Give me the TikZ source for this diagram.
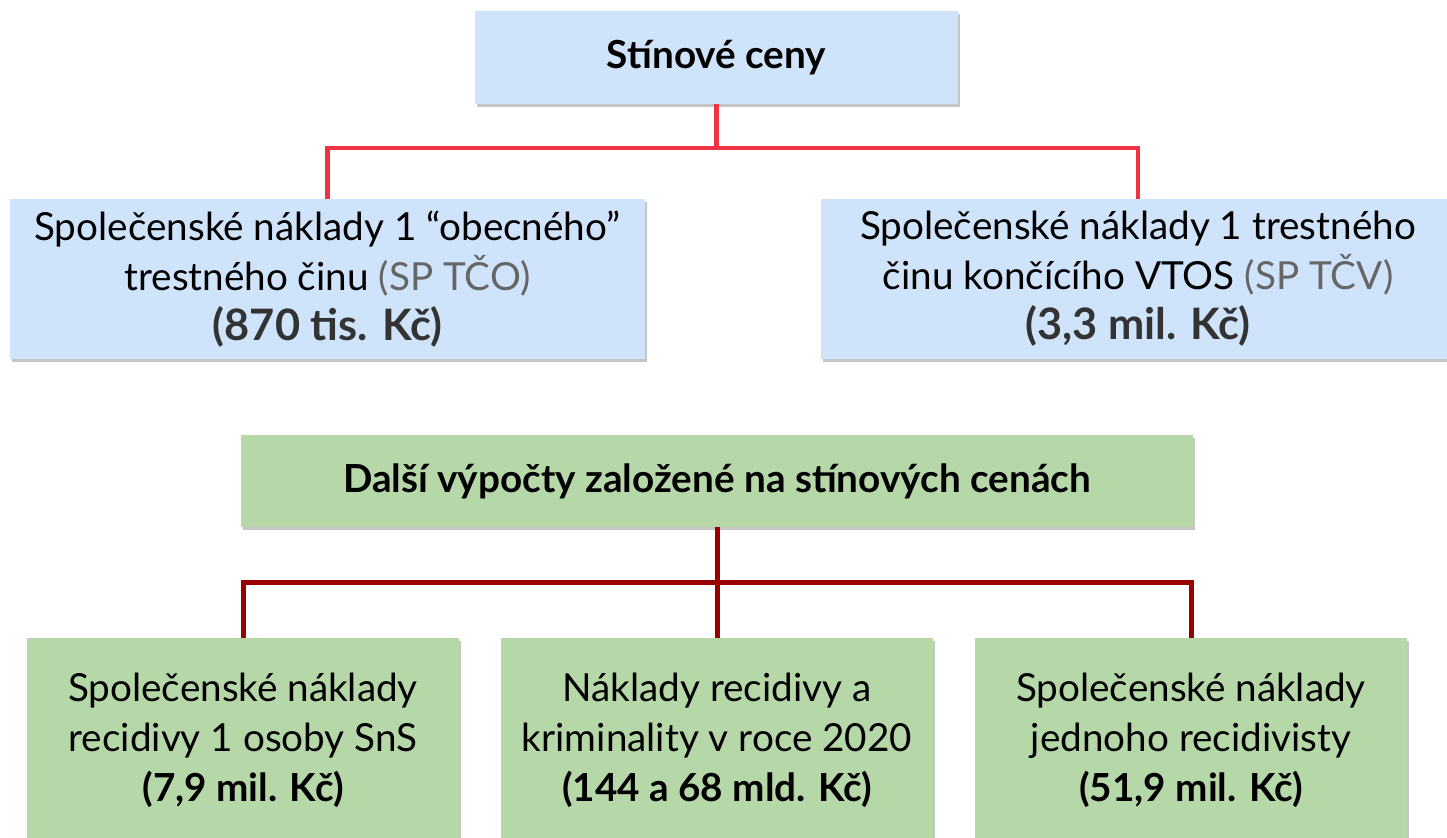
\documentclass[tikz,border=0pt]{standalone}
\usepackage{fontspec}
\setmainfont{Lato}
\usepackage{tikz}
\usetikzlibrary{calc,shadows}
\definecolor{boxblue}{RGB}{207,228,250}
\definecolor{boxgreen}{RGB}{182,215,168}
\definecolor{linered}{RGB}{238,52,66}
\definecolor{linedarkred}{RGB}{153,0,0}
\definecolor{valgray}{RGB}{51,51,51}
\definecolor{abbrgray}{RGB}{102,102,102}
\newcommand{\bigval}[1]{{\fontsize{32.5}{37.5}\selectfont\color{valgray}\bfseries #1}}

\begin{document}
\begin{tikzpicture}[x=0.75pt,y=-0.75pt]
	\tikzset{box/.style = {inner sep=0pt, align=center, font=\fontsize{29}{37.5}\selectfont,
	    drop shadow={shadow xshift=1.5pt, shadow yshift=-2.5pt, opacity=.45}}}
	\tikzset{bluebox/.style = {box, fill=boxblue}}
	\tikzset{greenbox/.style = {box, fill=boxgreen}}
	\tikzset{redline/.style = {draw=linered, line width=3.5pt}}
	\tikzset{darkline/.style = {draw=linedarkred, line width=3.75pt}}

	\clip (0,0) rectangle (1447,838);
	\fill[white] (0,0) rectangle (1447,838);

	% boxes
	\node[bluebox, minimum width=362pt, minimum height=70pt] (cena) at (716.5,57.5) {\textbf{Stínové ceny}};
	\node[bluebox, minimum width=476pt, minimum height=120pt] (tco) at (327.5,279)
	    {Společenské náklady 1 “obecného”\\ trestného činu {\color{abbrgray}(SP TČO)}\\
	    \bigval{(870 tis. Kč)}};
	\node[bluebox, minimum width=476pt, minimum height=120pt] (tcv) at (1138,279)
	    {Společenské náklady 1 trestného\\ činu končícího VTOS {\color{abbrgray}(SP TČV)}\\
	    \bigval{(3,3 mil. Kč)}};
	\node[greenbox, minimum width=714pt, minimum height=69pt] (dalsi) at (717,481) {\textbf{Další výpočty založené na stínových cenách}};
	\node[greenbox, minimum width=324pt, minimum height=153pt] (osoba) at (243,740)
	    {Společenské náklady\\ recidivy 1 osoby SnS\\ \textbf{(7,9 mil. Kč)}};
	\node[greenbox, minimum width=324pt, minimum height=153pt] (rok) at (717,740)
	    {Náklady recidivy a\\ kriminality v roce 2020\\ \textbf{(144 a 68 mld. Kč)}};
	\node[greenbox, minimum width=324pt, minimum height=153pt] (recid) at (1191,740)
	    {Společenské náklady\\ jednoho recidivisty\\ \textbf{(51,9 mil. Kč)}};

	% lines
	\coordinate (busA) at (716.5,148);
	\coordinate (busB) at (717,582);
	\draw[redline] (cena.south) -- (busA);
	\draw[redline] (busA) -| (tco.north);
	\draw[redline] (busA) -| (tcv.north);
	\draw[darkline] (dalsi.south) -- (busB);
	\draw[darkline] (busB) -| (osoba.north);
	\draw[darkline] (busB) -- (rok.north);
	\draw[darkline] (busB) -| (recid.north);
\end{tikzpicture}
\end{document}
